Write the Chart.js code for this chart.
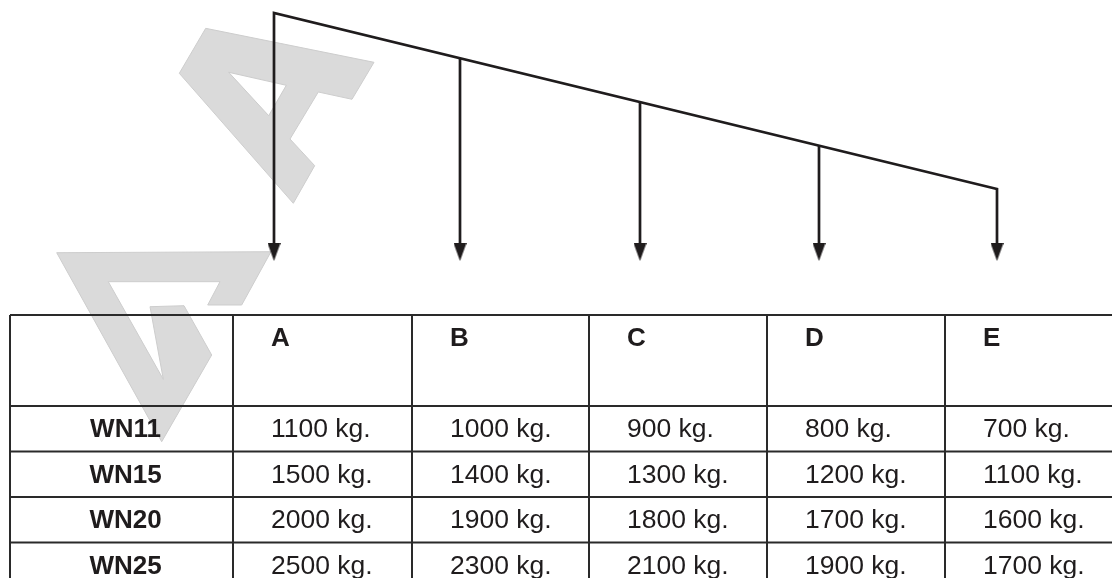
<!DOCTYPE html>
<html>
<head>
<meta charset="utf-8">
<script src="https://cdn.jsdelivr.net/npm/chart.js@4.4.1/dist/chart.umd.min.js"></script>
<style>
  html, body { margin: 0; padding: 0; background: #fff; }
  canvas { display: block; }
</style>
</head>
<body>
<canvas id="chart" width="1112" height="578"></canvas>
<script>
// table data
const positions = ['A', 'B', 'C', 'D', 'E'];
const models = ['WN11', 'WN15', 'WN20', 'WN25'];
const wn11 = [1100, 1000, 900, 800, 700];
const wn15 = [1500, 1400, 1300, 1200, 1100];
const wn20 = [2000, 1900, 1800, 1700, 1600];
const wn25 = [2500, 2300, 2100, 1900, 1700];
const loads = [wn11, wn15, wn20, wn25];
const unit = 'kg.';

// layout (page pixels, y grows downward)
const colEdges = [10, 233, 412, 589, 767, 945, 1130];
const rowEdges = [315, 406, 451.5, 497, 542.5, 600];
const pointX = [274, 460, 640, 819, 997];
const beamTop = 13;
const beamEnd = 189;
const tipY = 261;
const headW = 13;
const headH = 18;
const ink = '#1f1c1d';
const grey = '#dadada';

// watermark outlines
const markA = [[205.7, 28.3], [374, 62.3], [352, 99.3], [318.3, 92], [290, 139], [314.7, 165.7], [293.3, 203.3], [179.3, 73.3]];
const markAHole = [[228.7, 72.3], [286.3, 85.3], [268.7, 115.7]];
const markV = [[56.7, 252.7], [271, 251.7], [241.7, 305], [207.7, 305], [220, 281.7], [108.3, 281.7],
  [163.3, 379.3], [150, 306.7], [184, 305.7], [211.7, 355], [161.7, 441.7]];

const beamY = x => beamTop + (x - pointX[0]) * (beamEnd - beamTop) / (pointX[4] - pointX[0]);
const headY = tipY - headH / 2;
const closed = pts => pts.concat([pts[0]]).map(([x, y]) => ({ x, y }));

// arrowhead image used as point style
const head = document.createElement('canvas');
head.width = headW;
head.height = headH;
const hctx = head.getContext('2d');
hctx.fillStyle = ink;
hctx.beginPath();
hctx.moveTo(0, 0);
hctx.lineTo(headW, 0);
hctx.lineTo(headW / 2, headH);
hctx.closePath();
hctx.fill();

const lineStyle = {
  borderColor: ink,
  borderWidth: 2.7,
  pointRadius: 0,
  borderJoinStyle: 'miter',
  fill: false,
  order: 1,
};

const datasets = [
  {
    ...lineStyle,
    label: 'beam',
    data: [
      { x: pointX[0], y: headY },
      { x: pointX[0], y: beamTop },
      { x: pointX[4], y: beamEnd },
      { x: pointX[4], y: headY },
    ],
  },
  ...pointX.slice(1, 4).map((px, i) => ({
    ...lineStyle,
    label: positions[i + 1],
    data: [{ x: px, y: beamY(px) }, { x: px, y: headY }],
  })),
  {
    label: 'heads',
    data: pointX.map(px => ({ x: px, y: headY })),
    showLine: false,
    pointStyle: head,
    pointRadius: 9,
    order: 0,
  },
  {
    label: 'markAHole',
    data: closed(markAHole),
    backgroundColor: '#ffffff',
    borderColor: '#cccccc',
    borderWidth: 1,
    pointRadius: 0,
    fill: 'shape',
    order: 9,
  },
  {
    label: 'markA',
    data: closed(markA),
    backgroundColor: grey,
    borderColor: '#cdcdcd',
    borderWidth: 1,
    pointRadius: 0,
    fill: 'shape',
    order: 10,
  },
  {
    label: 'markV',
    data: closed(markV),
    backgroundColor: grey,
    borderColor: '#cdcdcd',
    borderWidth: 1,
    pointRadius: 0,
    fill: 'shape',
    order: 10,
  },
];

const tablePlugin = {
  id: 'loadTable',
  afterDatasetsDraw(chart) {
    const { ctx } = chart;
    const sx = v => chart.scales.x.getPixelForValue(v);
    const sy = v => chart.scales.y.getPixelForValue(v);
    const font = '"Liberation Sans", Arial, Helvetica, sans-serif';
    const left = colEdges[0];
    const right = colEdges[colEdges.length - 1];
    const top = rowEdges[0];
    const bottom = rowEdges[rowEdges.length - 1];

    ctx.save();
    ctx.strokeStyle = '#2a2a2a';
    ctx.lineWidth = 2;
    ctx.beginPath();
    rowEdges.forEach(r => {
      ctx.moveTo(sx(left), sy(r));
      ctx.lineTo(sx(right), sy(r));
    });
    colEdges.forEach(c => {
      ctx.moveTo(sx(c), sy(top));
      ctx.lineTo(sx(c), sy(bottom));
    });
    ctx.stroke();

    ctx.fillStyle = ink;
    ctx.textBaseline = 'alphabetic';

    // column headers
    ctx.font = 'bold 26px ' + font;
    ctx.textAlign = 'left';
    positions.forEach((p, i) => {
      ctx.fillText(p, sx(colEdges[i + 1] + 38), sy(rowEdges[0] + 31));
    });

    // model names
    ctx.textAlign = 'center';
    models.forEach((m, r) => {
      ctx.fillText(m, sx((colEdges[0] + colEdges[1]) / 2 + 4), sy(rowEdges[r + 1] + 31));
    });

    // loads
    ctx.font = '26.5px ' + font;
    ctx.textAlign = 'left';
    loads.forEach((row, r) => {
      row.forEach((v, i) => {
        ctx.fillText(v + ' ' + unit, sx(colEdges[i + 1] + 38), sy(rowEdges[r + 1] + 31));
      });
    });
    ctx.restore();
  },
};

new Chart(document.getElementById('chart'), {
  type: 'line',
  data: { datasets },
  options: {
    responsive: false,
    animation: false,
    events: [],
    layout: { padding: 0, autoPadding: false },
    plugins: {
      legend: { display: false },
      tooltip: { enabled: false },
    },
    scales: {
      x: { type: 'linear', min: 0, max: 1112, display: false },
      y: { type: 'linear', min: 0, max: 578, reverse: true, display: false },
    },
  },
  plugins: [tablePlugin],
});
</script>
</body>
</html>
